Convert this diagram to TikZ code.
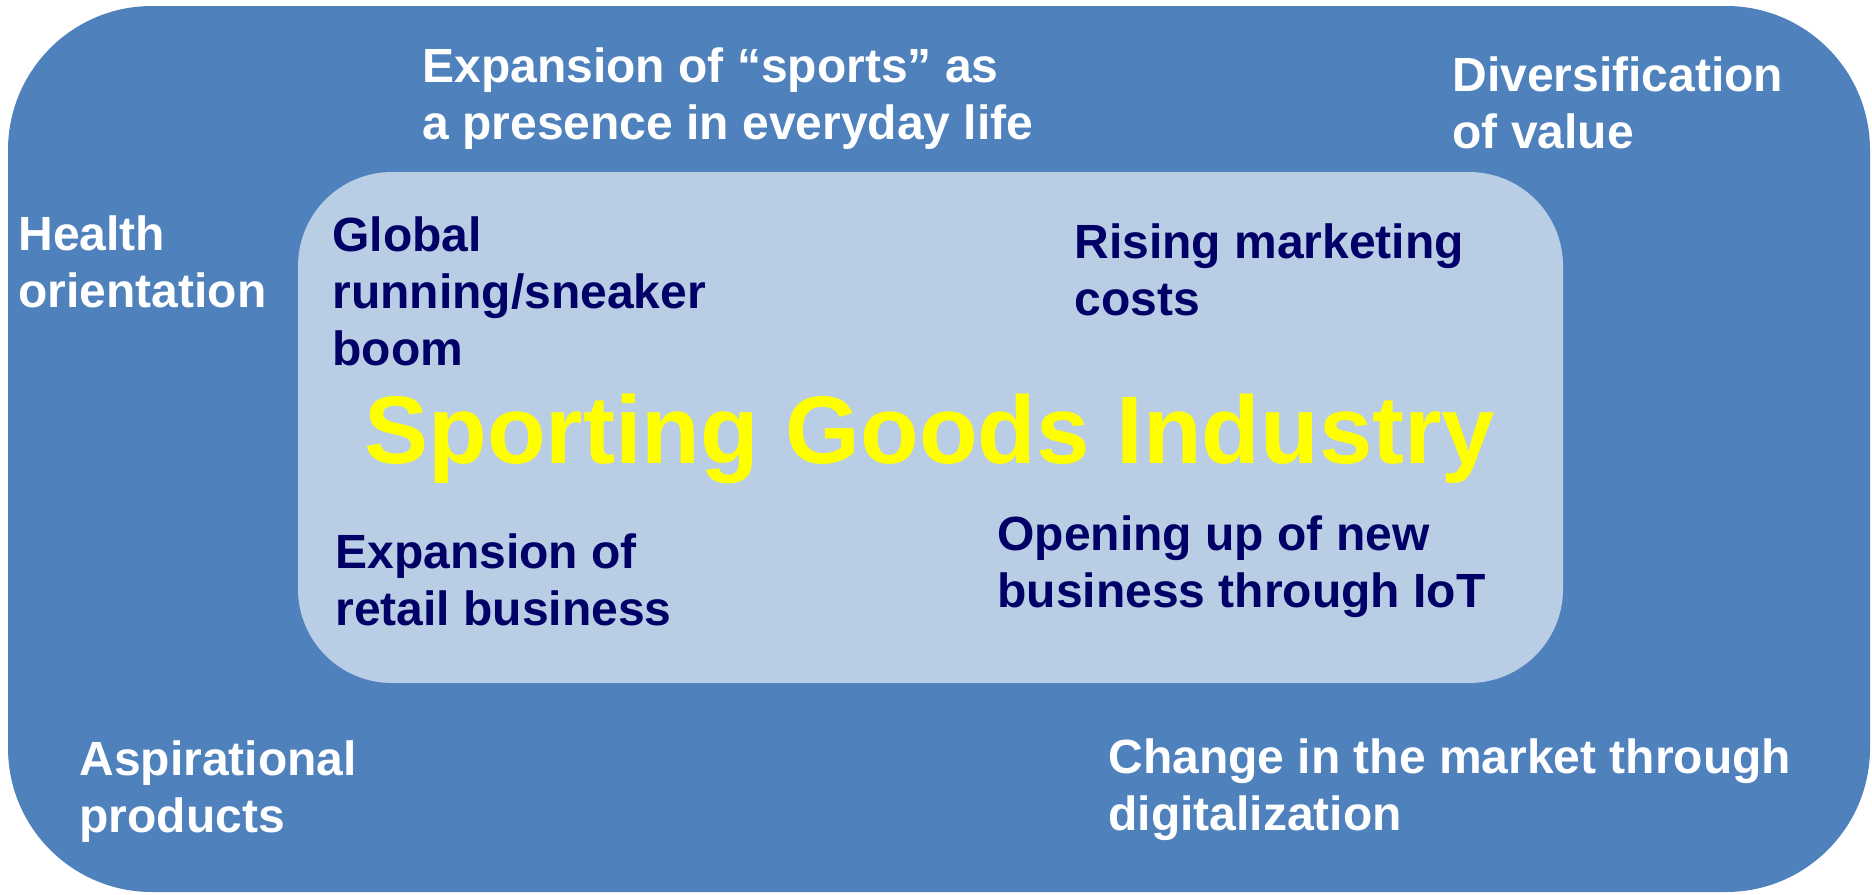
\documentclass[tikz,border=0pt]{standalone}
\usepackage{fontspec}
\setmainfont{Liberation Sans}
\definecolor{outerblue}{HTML}{4F81BD}
\definecolor{innerblue}{HTML}{B9CDE5}
\definecolor{navytxt}{HTML}{000066}
\definecolor{titleyellow}{HTML}{FFFF00}
\begin{document}
\begin{tikzpicture}[x=0.5pt,y=-0.5pt,
  outertxt/.style={anchor=base west, inner sep=0pt, align=left, text=white,
    font=\bfseries\fontsize{24}{28.5}\selectfont},
  innertxt/.style={outertxt, text=navytxt},
  titletxt/.style={anchor=base west, inner sep=0pt, text=titleyellow,
    font=\bfseries\fontsize{48}{57}\selectfont}]
\useasboundingbox (0,0) rectangle (1872,894);
\fill[outerblue, rounded corners=72pt] (8,6) rectangle (1870,892);
\fill[innerblue, rounded corners=47pt] (298,172) rectangle (1563,683);
% anchor = baseline of the last line
\node[outertxt] (sports) at (422,139) {Expansion of “sports” as\\a presence in everyday life};
\node[outertxt] (divers) at (1452,148) {Diversification\\of value};
\node[outertxt] (health) at (18,307) {Health\\orientation};
\node[outertxt] (aspir) at (79,832) {Aspirational\\products};
\node[outertxt] (change) at (1108,830) {Change in the market through\\digitalization};
\node[innertxt] (global) at (332,365) {Global\\running/sneaker\\boom};
\node[innertxt] (rising) at (1074,315) {Rising marketing\\costs};
\node[innertxt] (retail) at (335,625) {Expansion of\\retail business};
\node[innertxt] (iot) at (997,607) {Opening up of new\\business through IoT};
\node[titletxt] (title) at (364,463) {Sporting Goods Industry};
\end{tikzpicture}
\end{document}
